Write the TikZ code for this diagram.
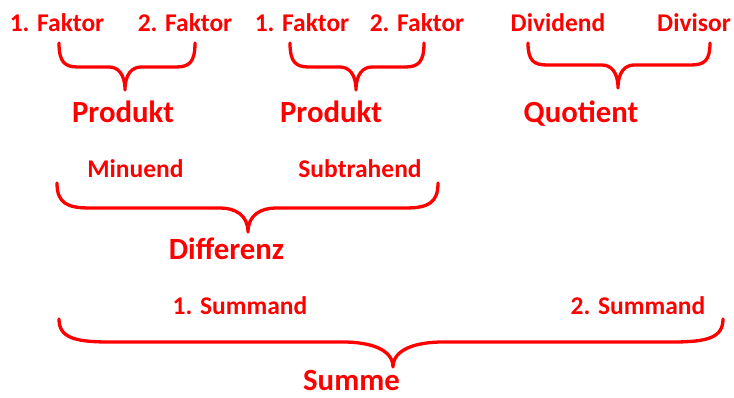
\documentclass[tikz,border=0pt]{standalone}
\usepackage{fontspec}
\setmainfont{Carlito}
\definecolor{lblred}{HTML}{FF0000}
\newcommand{\curlybrace}[8]{%
  \draw[bracestroke] (#1,#4) .. controls (#1,{#4+0.8*(#5-#4)}) and ({#1+0.3*#7},#5) .. ({#1+#7},#5)
    -- ({#3-#8},#5) .. controls ({#3-0.45*#8},#5) and (#3,{#5+0.3*(#6-#5)}) .. (#3,#6)
    .. controls (#3,{#5+0.3*(#6-#5)}) and ({#3+0.45*#8},#5) .. ({#3+#8},#5)
    -- ({#2-#7},#5) .. controls ({#2-0.3*#7},#5) and (#2,{#4+0.8*(#5-#4)}) .. (#2,#4);}
\begin{document}
\begin{tikzpicture}[x=1pt,y=-1pt,
  bracestroke/.style={draw=lblred,line width=3.3pt,line cap=round,line join=round},
  lbl/.style={anchor=base,inner sep=0pt,text=lblred,font=\fontsize{25.5}{28}\selectfont\bfseries},
  res/.style={anchor=base,inner sep=0pt,text=lblred,font=\fontsize{30.8}{34}\selectfont\bfseries}]
\useasboundingbox (0,0) rectangle (734,398);
% row 1
\node[lbl] (f1a) at (57,32) {1. Faktor};
\node[lbl] (f2a) at (185,32) {2. Faktor};
\node[lbl] (f1b) at (302,32) {1. Faktor};
\node[lbl] (f2b) at (417,32) {2. Faktor};
\node[lbl] (dvd) at (558,32) {Dividend};
\node[lbl] (dvs) at (694,32) {Divisor};
\curlybrace{59}{195}{125}{43}{67}{90}{19}{16}
\curlybrace{290}{424}{356}{43}{67}{90}{19}{16}
\curlybrace{528}{710}{618}{43}{65}{88}{19}{16}
\node[res] (prod1) at (123,123) {Produkt};
\node[res] (prod2) at (331,123) {Produkt};
\node[res] (quot) at (581,123) {Quotient};
% row 2
\node[lbl] (min) at (135.5,178) {Minuend};
\node[lbl] (sub) at (360,178) {Subtrahend};
\curlybrace{57}{438}{248}{183}{208}{232}{33}{28}
\node[res] (diff) at (226.5,260) {Differenz};
% row 3
\node[lbl] (s1) at (240,315) {1. Summand};
\node[lbl] (s2) at (638,315) {2. Summand};
\curlybrace{59}{723}{393}{319}{342}{367}{50}{50}
\node[res] (sum) at (351.5,390) {Summe};
\end{tikzpicture}
\end{document}
